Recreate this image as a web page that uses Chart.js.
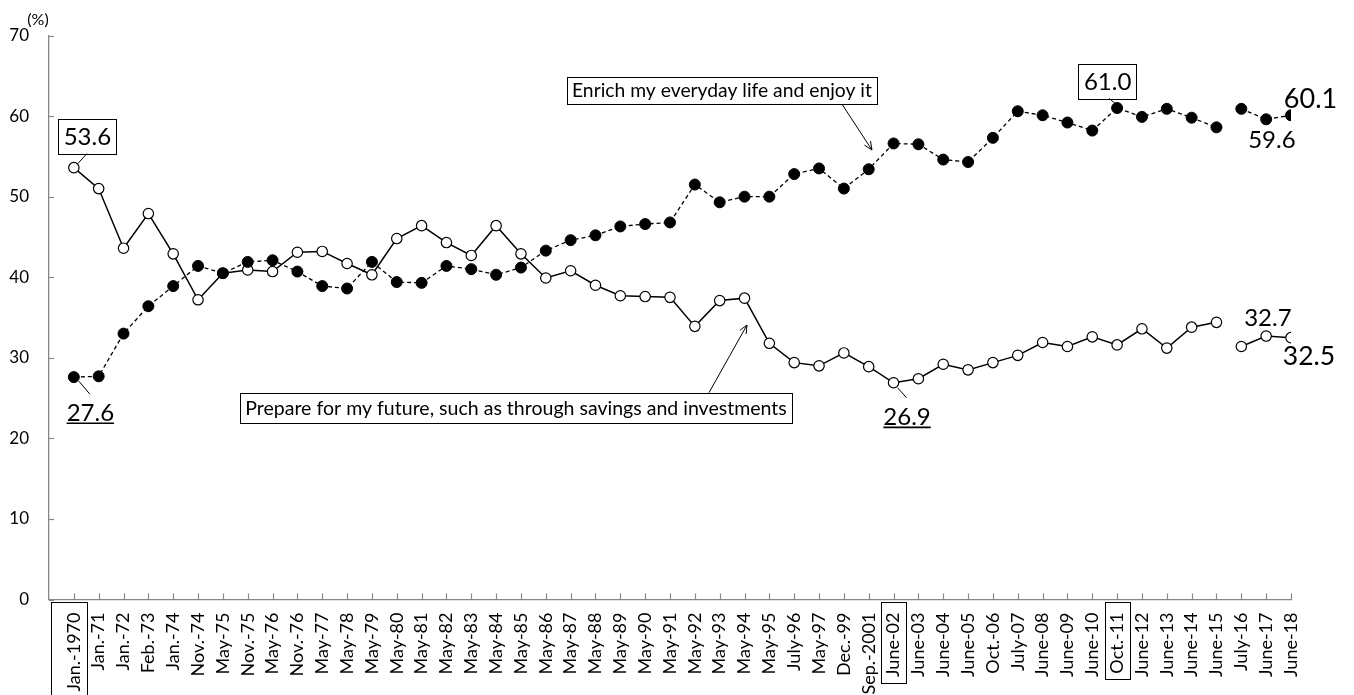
<!DOCTYPE html>
<html>
<head>
<meta charset="utf-8">
<title>Enrich my everyday life / Prepare for my future</title>
<script src="https://cdn.jsdelivr.net/npm/chart.js@4.4.1/dist/chart.umd.min.js"></script>
<style>
  html, body { margin: 0; padding: 0; background: #fff; }
</style>
</head>
<body>
<canvas id="lifeChart" width="1354" height="695"></canvas>
<script>
// survey dates along the x axis
const categories = [
  'Jan.-1970', 'Jan.-71', 'Jan.-72', 'Feb.-73', 'Jan.-74', 'Nov.-74', 'May-75', 'Nov.-75',
  'May-76', 'Nov.-76', 'May-77', 'May-78', 'May-79', 'May-80', 'May-81', 'May-82',
  'May-83', 'May-84', 'May-85', 'May-86', 'May-87', 'May-88', 'May-89', 'May-90',
  'May-91', 'May-92', 'May-93', 'May-94', 'May-95', 'July-96', 'May-97', 'Dec.-99',
  'Sep.-2001', 'June-02', 'June-03', 'June-04', 'June-05', 'Oct.-06', 'July-07', 'June-08',
  'June-09', 'June-10', 'Oct.-11', 'June-12', 'June-13', 'June-14', 'June-15', 'July-16',
  'June-17', 'June-18'
];

// "Enrich my everyday life and enjoy it" (%)
const enrichLife = [
  27.6, 27.7, 33.0, 36.4, 38.9, 41.4, 40.5, 41.9, 42.1, 40.7,
  38.9, 38.6, 41.9, 39.4, 39.3, 41.4, 41.0, 40.3, 41.2, 43.3,
  44.6, 45.2, 46.3, 46.6, 46.8, 51.5, 49.3, 50.0, 50.0, 52.8,
  53.5, 51.0, 53.4, 56.6, 56.5, 54.6, 54.3, 57.3, 60.6, 60.1,
  59.2, 58.2, 61.0, 59.9, 60.9, 59.8, 58.6, 60.9, 59.6, 60.1
];

// "Prepare for my future, such as through savings and investments" (%)
const prepareFuture = [
  53.6, 51.0, 43.6, 47.9, 42.9, 37.2, 40.5, 40.9, 40.7, 43.1,
  43.2, 41.7, 40.3, 44.8, 46.4, 44.3, 42.7, 46.4, 42.9, 39.9,
  40.8, 39.0, 37.7, 37.6, 37.5, 33.9, 37.1, 37.4, 31.8, 29.4,
  29.0, 30.6, 28.9, 26.9, 27.4, 29.2, 28.5, 29.4, 30.3, 31.9,
  31.4, 32.6, 31.6, 33.6, 31.2, 33.8, 34.4, 31.4, 32.7, 32.5
];

const yTicks = [0, 10, 20, 30, 40, 50, 60, 70];

// survey method changed here, so the lines are not joined across it
const seriesBreak = 'July-16';
const boxedCategories = ['Jan.-1970', 'June-02', 'Oct.-11'];

const FONT = 'Lato, "Open Sans", sans-serif';
const AXIS_GREY = '#878787';
const DATE_FONT_SIZE = 18;

function toPoints(values) {
  return values.map((v, i) => ({ x: i, y: v }));
}

function segmentColor(ctx) {
  return categories[ctx.p1DataIndex] === seriesBreak ? 'rgba(0,0,0,0)' : '#000';
}

// value callouts: offsets are pixels from the marker
const valueNotes = [
  { series: prepareFuture, at: 'Jan.-1970', style: 'box', size: 24, dx: 13.5, dy: -31.5, lead: [13, -14, 4, -4] },
  { series: enrichLife, at: 'Jan.-1970', style: 'underline', size: 24, dx: 16.5, dy: 35.5, lead: [5, 4, 16, 17] },
  { series: prepareFuture, at: 'June-02', style: 'underline', size: 24, dx: 13.5, dy: 34, lead: [4, 5, 13, 15] },
  { series: enrichLife, at: 'Oct.-11', style: 'box', size: 24, dx: -9.5, dy: -26.6, lead: [-8, -9.6, -2, -4.6] },
  { series: enrichLife, at: 'June-18', style: 'plain', size: 27, dx: 19.5, dy: -17 },
  { series: enrichLife, at: 'June-17', style: 'plain', size: 24, dx: 5.7, dy: 20 },
  { series: prepareFuture, at: 'June-17', style: 'plain', size: 24, dx: 1.7, dy: -19 },
  { series: prepareFuture, at: 'June-18', style: 'plain', size: 26.5, dx: 18, dy: 18 }
];

// series name boxes, placed in axis units, with arrows pointing at the line
const seriesNotes = [
  { text: 'Enrich my everyday life and enjoy it', x: 26.09, y: 63.17, w: 310, h: 27,
    arrow: [30.92, 61.5, 32.13, 55.79] },
  { text: 'Prepare for my future, such as through savings and investments', x: 17.8, y: 23.77, w: 552, h: 30,
    arrow: [25.57, 25.67, 27.1, 34.07] }
];

function line(ctx, x1, y1, x2, y2) {
  ctx.beginPath();
  ctx.moveTo(x1, y1);
  ctx.lineTo(x2, y2);
  ctx.stroke();
}

function arrow(ctx, x1, y1, x2, y2) {
  line(ctx, x1, y1, x2, y2);
  const a = Math.atan2(y2 - y1, x2 - x1);
  const len = 9, spread = 0.42;
  ctx.beginPath();
  ctx.moveTo(x2 - len * Math.cos(a - spread), y2 - len * Math.sin(a - spread));
  ctx.lineTo(x2, y2);
  ctx.lineTo(x2 - len * Math.cos(a + spread), y2 - len * Math.sin(a + spread));
  ctx.stroke();
}

const inwardTicks = {
  id: 'inwardTicks',
  beforeDatasetsDraw(chart) {
    const { ctx, chartArea, scales: { x, y } } = chart;
    ctx.save();
    ctx.strokeStyle = AXIS_GREY;
    ctx.lineWidth = 1.2;
    categories.forEach((c, i) => {
      const px = Math.round(x.getPixelForValue(i)) + 0.5;
      line(ctx, px, chartArea.bottom, px, chartArea.bottom - 6);
    });
    yTicks.forEach(v => {
      const py = Math.round(y.getPixelForValue(v)) + 0.5;
      line(ctx, chartArea.left, py, chartArea.left + 5, py);
    });
    ctx.restore();
  }
};

const notes = {
  id: 'notes',
  afterDraw(chart) {
    const { ctx, chartArea, scales: { x, y } } = chart;
    ctx.save();
    ctx.strokeStyle = '#000';
    ctx.fillStyle = '#000';

    // unit label above the y axis
    ctx.font = '16px ' + FONT;
    ctx.textAlign = 'center';
    ctx.textBaseline = 'alphabetic';
    ctx.fillText('(%)', 38, 25);

    // frames round a few of the date labels
    ctx.font = DATE_FONT_SIZE + 'px ' + FONT;
    ctx.lineWidth = 1;
    boxedCategories.forEach(c => {
      const i = categories.indexOf(c);
      const px = x.getPixelForValue(i);
      const left = i === 0 ? chartArea.left + 1.5 : px - 12.5;
      const right = px + 12.5;
      const top = chartArea.bottom + 2;
      const bottom = top + 11 + ctx.measureText(c).width + 5;
      ctx.strokeRect(Math.round(left) + 0.5, Math.round(top) + 0.5, Math.round(right - left), Math.round(bottom - top));
    });

    // value callouts
    valueNotes.forEach(n => {
      const i = categories.indexOf(n.at);
      const v = n.series[i];
      const px = x.getPixelForValue(i);
      const py = y.getPixelForValue(v);
      const text = v.toFixed(1);
      ctx.font = n.size + 'px ' + FONT;
      ctx.textAlign = 'center';
      ctx.textBaseline = 'alphabetic';
      const cx = px + n.dx, cy = py + n.dy;
      const base = cy + n.size * 0.36;
      const w = ctx.measureText(text).width;
      ctx.fillText(text, cx, base);
      ctx.lineWidth = 1;
      if (n.style === 'box') {
        const bh = n.size * 1.44;
        ctx.strokeRect(Math.round(cx - w / 2 - 5.5) + 0.5, Math.round(cy - bh / 2) + 0.5, Math.round(w + 11), Math.round(bh));
      } else if (n.style === 'underline') {
        ctx.lineWidth = 1.6;
        line(ctx, cx - w / 2, base + 2, cx + w / 2, base + 2);
      }
      if (n.lead) {
        ctx.lineWidth = 1;
        line(ctx, px + n.lead[0], py + n.lead[1], px + n.lead[2], py + n.lead[3]);
      }
    });

    // series name boxes
    seriesNotes.forEach(s => {
      const cx = x.getPixelForValue(s.x);
      const cy = y.getPixelForValue(s.y);
      ctx.font = '20px ' + FONT;
      const size = 20 * (s.w - 10) / ctx.measureText(s.text).width;
      ctx.font = size.toFixed(2) + 'px ' + FONT;
      ctx.fillStyle = '#fff';
      ctx.fillRect(cx - s.w / 2, cy - s.h / 2, s.w, s.h);
      ctx.fillStyle = '#000';
      ctx.textAlign = 'center';
      ctx.textBaseline = 'alphabetic';
      ctx.fillText(s.text, cx, cy + size * 0.36);
      ctx.lineWidth = 1;
      ctx.strokeRect(Math.round(cx - s.w / 2) + 0.5, Math.round(cy - s.h / 2) + 0.5, s.w, s.h);
      arrow(ctx,
        x.getPixelForValue(s.arrow[0]), y.getPixelForValue(s.arrow[1]),
        x.getPixelForValue(s.arrow[2]), y.getPixelForValue(s.arrow[3]));
    });
    ctx.restore();
  }
};

new Chart(document.getElementById('lifeChart'), {
  type: 'line',
  data: {
    datasets: [{
      label: 'Enrich my everyday life and enjoy it',
      data: toPoints(enrichLife),
      borderColor: '#000',
      borderWidth: 1.3,
      borderDash: [4, 3],
      pointRadius: 5.5,
      pointBackgroundColor: '#000',
      pointBorderColor: '#000',
      pointBorderWidth: 1,
      segment: { borderColor: segmentColor }
    }, {
      label: 'Prepare for my future, such as through savings and investments',
      data: toPoints(prepareFuture),
      borderColor: '#000',
      borderWidth: 1.5,
      pointRadius: 5.2,
      pointBackgroundColor: '#fff',
      pointBorderColor: '#000',
      pointBorderWidth: 1.2,
      segment: { borderColor: segmentColor }
    }]
  },
  options: {
    responsive: false,
    animation: false,
    layout: { padding: { top: 35.5, right: 63, left: 0, bottom: 0 } },
    plugins: {
      legend: { display: false },
      tooltip: { enabled: false }
    },
    scales: {
      x: {
        type: 'linear',
        min: -1,
        max: 49,
        afterBuildTicks: s => { s.ticks = categories.map((c, i) => ({ value: i })); },
        afterFit: s => { s.height = 95.5; },
        grid: { display: false, drawTicks: false },
        border: { display: true, color: AXIS_GREY, width: 1.3 },
        ticks: {
          autoSkip: false,
          maxRotation: 90,
          minRotation: 90,
          padding: 13,
          color: '#000',
          font: { family: FONT, size: DATE_FONT_SIZE },
          callback: v => categories[v] ?? ''
        }
      },
      y: {
        min: 0,
        max: 70,
        afterBuildTicks: s => { s.ticks = yTicks.map(v => ({ value: v })); },
        afterFit: s => { s.width = 49; },
        grid: { display: false, drawTicks: false },
        border: { display: true, color: AXIS_GREY, width: 1.3 },
        ticks: {
          padding: 20,
          color: '#000',
          font: { family: FONT, size: 17 }
        }
      }
    }
  },
  plugins: [inwardTicks, notes]
});
</script>
</body>
</html>
